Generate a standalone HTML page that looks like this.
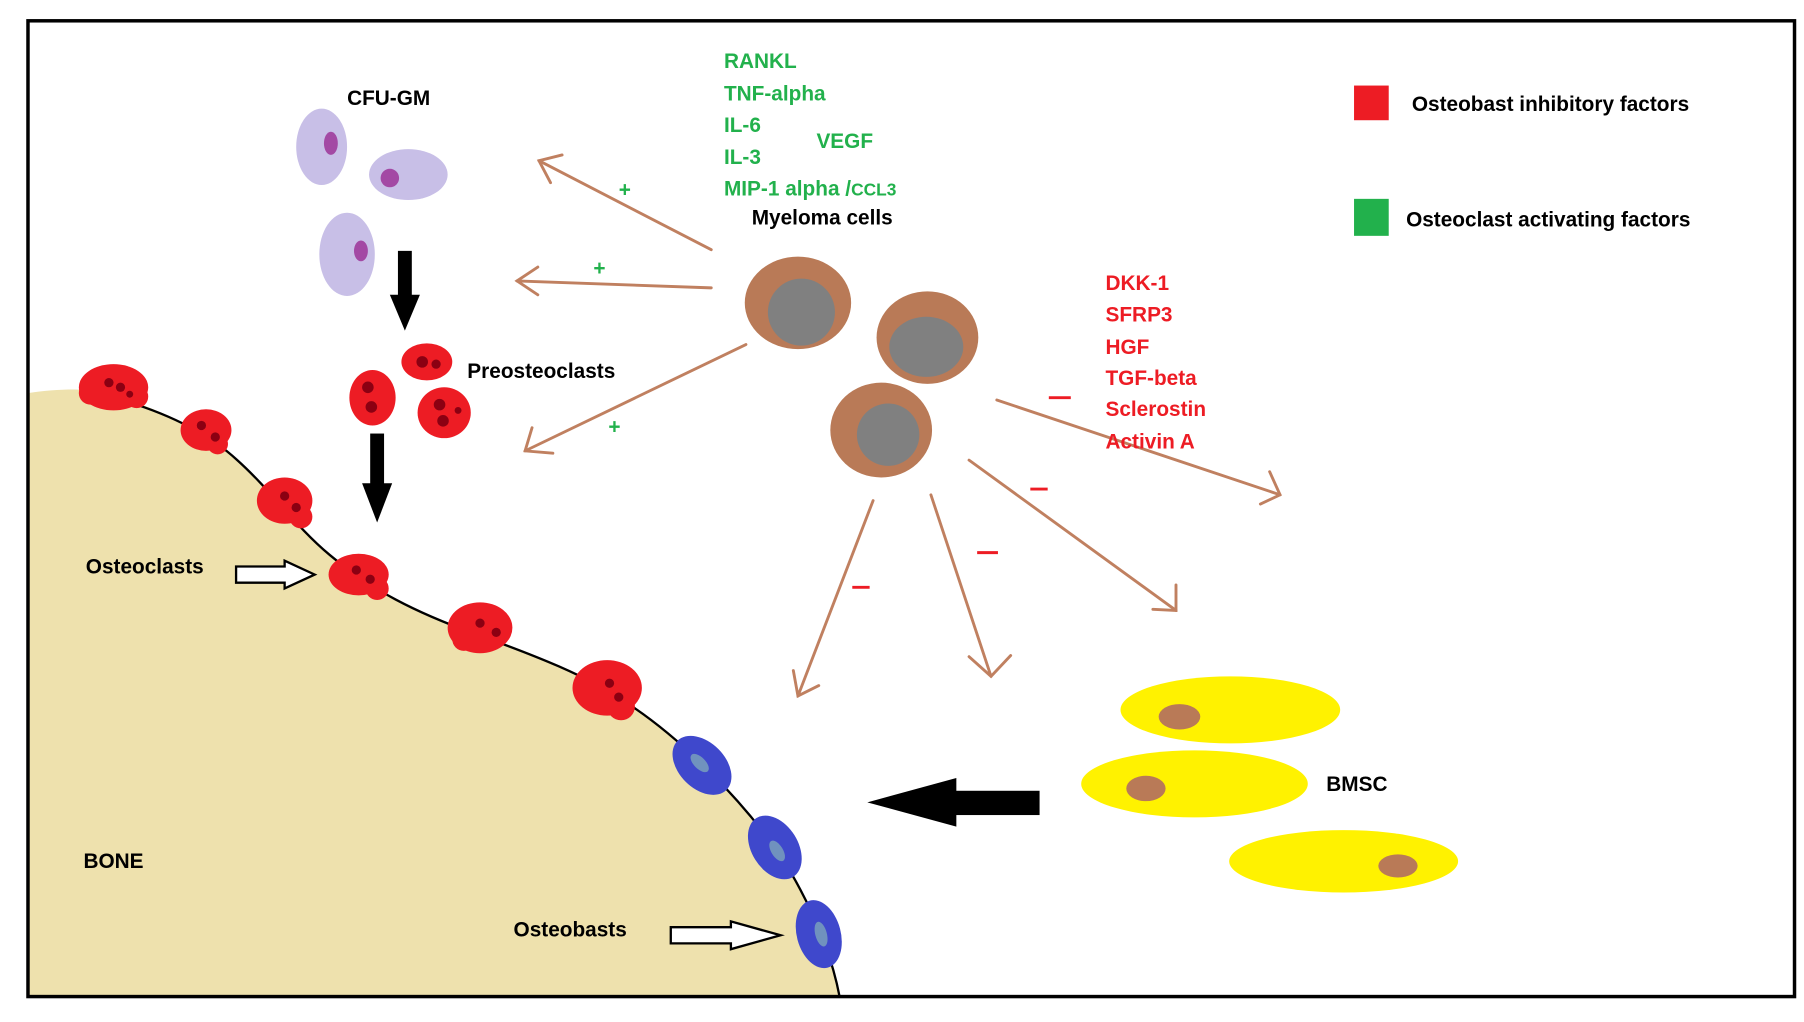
<!DOCTYPE html>
<html><head><meta charset="utf-8"><style>
html,body{margin:0;padding:0;background:#fff}
svg{display:block}
text{font-family:"Liberation Sans",sans-serif;font-weight:bold;font-size:18px}
</style></head><body>
<svg width="1804" height="1022" viewBox="0 0 1560 884" xmlns="http://www.w3.org/2000/svg">
<rect x="0" y="0" width="1560" height="884" fill="#fff"/>
<path d="M24,340 C45,337 65,336 85,338 C130,350 175,370 205,398 C235,425 255,455 285,480 C320,510 360,530 410,548 C460,566 510,585 545,610 C590,640 640,690 675,740 C700,780 718,820 726,862 L24,862 Z" fill="#EEE1AD" stroke="none"/>
<path d="M70,337 C130,350 175,370 205,398 C235,425 255,455 285,480 C320,510 360,530 410,548 C460,566 510,585 545,610 C590,640 640,690 675,740 C700,780 718,820 726,862" fill="none" stroke="#000" stroke-width="2"/>
<rect x="24" y="18" width="1528" height="844" fill="none" stroke="#000" stroke-width="3"/>

<!-- CFU-GM -->
<ellipse cx="278" cy="127" rx="22" ry="33" fill="#C8BFE7"/><ellipse cx="286" cy="124" rx="6" ry="10" fill="#A349A4"/>
<ellipse cx="353" cy="151" rx="34" ry="22" fill="#C8BFE7"/><ellipse cx="337" cy="154" rx="8" ry="8" fill="#A349A4"/>
<ellipse cx="300" cy="220" rx="24" ry="36" fill="#C8BFE7"/><ellipse cx="312" cy="217" rx="6" ry="9" fill="#A349A4"/>

<!-- black arrows -->
<rect x="344" y="217" width="12" height="40" fill="#000"/><polygon points="337,255 363,255 350,286" fill="#000"/>
<rect x="320" y="375" width="12" height="45" fill="#000"/><polygon points="313,418 339,418 326,452" fill="#000"/>

<!-- preosteoclasts -->
<ellipse cx="369" cy="313" rx="22" ry="16" fill="#ED1C24"/><circle cx="365" cy="313" r="5" fill="#8B0012"/><circle cx="377" cy="315" r="4" fill="#8B0012"/>
<ellipse cx="322" cy="344" rx="20" ry="24" fill="#ED1C24"/><circle cx="318" cy="335" r="5" fill="#8B0012"/><circle cx="321" cy="352" r="5" fill="#8B0012"/>
<ellipse cx="384" cy="357" rx="23" ry="22" fill="#ED1C24"/><circle cx="380" cy="350" r="5" fill="#8B0012"/><circle cx="383" cy="364" r="5" fill="#8B0012"/><circle cx="396" cy="355" r="3" fill="#8B0012"/>

<!-- osteoclasts on bone -->
<g fill="#ED1C24">
<g transform="translate(98,335)"><ellipse cx="0" cy="0" rx="30" ry="20"/><circle cx="-20" cy="5" r="10"/><circle cx="20" cy="8" r="10"/><circle cx="-4" cy="-4" r="4" fill="#8B0012"/><circle cx="6" cy="0" r="4" fill="#8B0012"/><circle cx="14" cy="6" r="3" fill="#8B0012"/></g>
<g transform="translate(178,372)"><ellipse cx="0" cy="0" rx="22" ry="18"/><circle cx="10" cy="12" r="9"/><circle cx="-4" cy="-4" r="4" fill="#8B0012"/><circle cx="8" cy="6" r="4" fill="#8B0012"/></g>
<g transform="translate(246,433)"><ellipse cx="0" cy="0" rx="24" ry="20"/><circle cx="14" cy="14" r="10"/><circle cx="0" cy="-4" r="4" fill="#8B0012"/><circle cx="10" cy="6" r="4" fill="#8B0012"/></g>
<g transform="translate(310,497)"><ellipse cx="0" cy="0" rx="26" ry="18"/><circle cx="16" cy="12" r="10"/><circle cx="-2" cy="-4" r="4" fill="#8B0012"/><circle cx="10" cy="4" r="4" fill="#8B0012"/></g>
<g transform="translate(415,543)"><ellipse cx="0" cy="0" rx="28" ry="22"/><circle cx="-14" cy="10" r="10"/><circle cx="0" cy="-4" r="4" fill="#8B0012"/><circle cx="14" cy="4" r="4" fill="#8B0012"/></g>
<g transform="translate(525,595)"><ellipse cx="0" cy="0" rx="30" ry="24"/><circle cx="12" cy="16" r="12"/><circle cx="2" cy="-4" r="4" fill="#8B0012"/><circle cx="10" cy="8" r="4" fill="#8B0012"/></g>
</g>
<!-- osteoblasts -->
<g fill="#3F48CC">
<ellipse cx="607" cy="662" rx="30" ry="20" transform="rotate(45 607 662)"/>
<ellipse cx="670" cy="733" rx="30" ry="20" transform="rotate(58 670 733)"/>
<ellipse cx="708" cy="808" rx="30" ry="19" transform="rotate(75 708 808)"/>
</g>
<g fill="#7092BE">
<ellipse cx="605" cy="660" rx="10" ry="5" transform="rotate(45 605 660)"/>
<ellipse cx="672" cy="736" rx="10" ry="5" transform="rotate(58 672 736)"/>
<ellipse cx="710" cy="808" rx="11" ry="5" transform="rotate(75 710 808)"/>
</g>

<!-- myeloma cells -->
<ellipse cx="690" cy="262" rx="46" ry="40" fill="#B97A57"/><circle cx="693" cy="270" r="29" fill="#808080"/>
<ellipse cx="802" cy="292" rx="44" ry="40" fill="#B97A57"/><ellipse cx="801" cy="300" rx="32" ry="26" fill="#808080"/>
<ellipse cx="762" cy="372" rx="44" ry="41" fill="#B97A57"/><circle cx="768" cy="376" r="27" fill="#808080"/>

<!-- brown arrows -->
<g stroke="#C08060" stroke-width="2.5" fill="none" stroke-linecap="round">
<line x1="615" y1="216" x2="466" y2="139"/><polyline points="486,134 466,139 476,158"/>
<line x1="615" y1="249" x2="447" y2="243"/><polyline points="465,231 447,243 465,255"/>
<line x1="645" y1="298" x2="454" y2="390"/><polyline points="460,370 454,390 478,392"/>
<line x1="862" y1="346" x2="1107" y2="428"/><polyline points="1098,408 1107,428 1090,436"/>
<line x1="838" y1="398" x2="1017" y2="528"/><polyline points="1017,506 1017,528 997,527"/>
<line x1="805" y1="428" x2="857" y2="585"/><polyline points="838,568 857,585 874,567"/>
<line x1="755" y1="433" x2="690" y2="602"/><polyline points="686,580 690,602 708,593"/>
</g>

<!-- signs -->
<g fill="#22B14C"><text x="535" y="170">+</text><text x="513" y="238">+</text><text x="526" y="375">+</text></g>
<g stroke="#ED1C24" stroke-width="2.5">
<line x1="907" y1="344" x2="926" y2="344"/><line x1="891" y1="423" x2="906" y2="423"/>
<line x1="845" y1="478" x2="863" y2="478"/><line x1="737" y1="508" x2="752" y2="508"/>
</g>

<!-- BMSC -->
<ellipse cx="1064" cy="614" rx="95" ry="29" fill="#FFF200"/><ellipse cx="1020" cy="620" rx="18" ry="11" fill="#B97A57"/>
<ellipse cx="1033" cy="678" rx="98" ry="29" fill="#FFF200"/><ellipse cx="991" cy="682" rx="17" ry="11" fill="#B97A57"/>
<ellipse cx="1162" cy="745" rx="99" ry="27" fill="#FFF200"/><ellipse cx="1209" cy="749" rx="17" ry="10" fill="#B97A57"/>

<!-- big black arrow -->
<rect x="822" y="684" width="77" height="21" fill="#000"/><polygon points="750,694 827,673 827,715" fill="#000"/>

<!-- hollow arrows -->
<polygon points="204,490 246,490 246,485 272,497 246,509 246,504 204,504" fill="#fff" stroke="#000" stroke-width="2"/>
<polygon points="580,802 632,802 632,797 675,809 632,821 632,816 580,816" fill="#fff" stroke="#000" stroke-width="2"/>

<!-- legend -->
<rect x="1171" y="74" width="30" height="30" fill="#ED1C24"/>
<rect x="1171" y="172" width="30" height="32" fill="#22B14C"/>

<!-- texts -->
<g fill="#000">
<text x="300" y="91">CFU-GM</text>
<text x="404" y="327">Preosteoclasts</text>
<text x="650" y="194">Myeloma cells</text>
<text x="74" y="496">Osteoclasts</text>
<text x="72" y="751">BONE</text>
<text x="444" y="810">Osteobasts</text>
<text x="1147" y="684">BMSC</text>
<text x="1221" y="96">Osteobast inhibitory factors</text>
<text x="1216" y="196">Osteoclast activating factors</text>
</g>
<g fill="#22B14C">
<text x="626" y="59">RANKL</text>
<text x="626" y="87">TNF-alpha</text>
<text x="626" y="114">IL-6</text>
<text x="706" y="128">VEGF</text>
<text x="626" y="142">IL-3</text>
<text x="626" y="169">MIP-1 alpha /<tspan font-size="15">CCL3</tspan></text>
</g>
<g fill="#ED1C24">
<text x="956" y="251">DKK-1</text>
<text x="956" y="278">SFRP3</text>
<text x="956" y="306">HGF</text>
<text x="956" y="333">TGF-beta</text>
<text x="956" y="360">Sclerostin</text>
<text x="956" y="388">Activin A</text>
</g>
</svg>
</body></html>
